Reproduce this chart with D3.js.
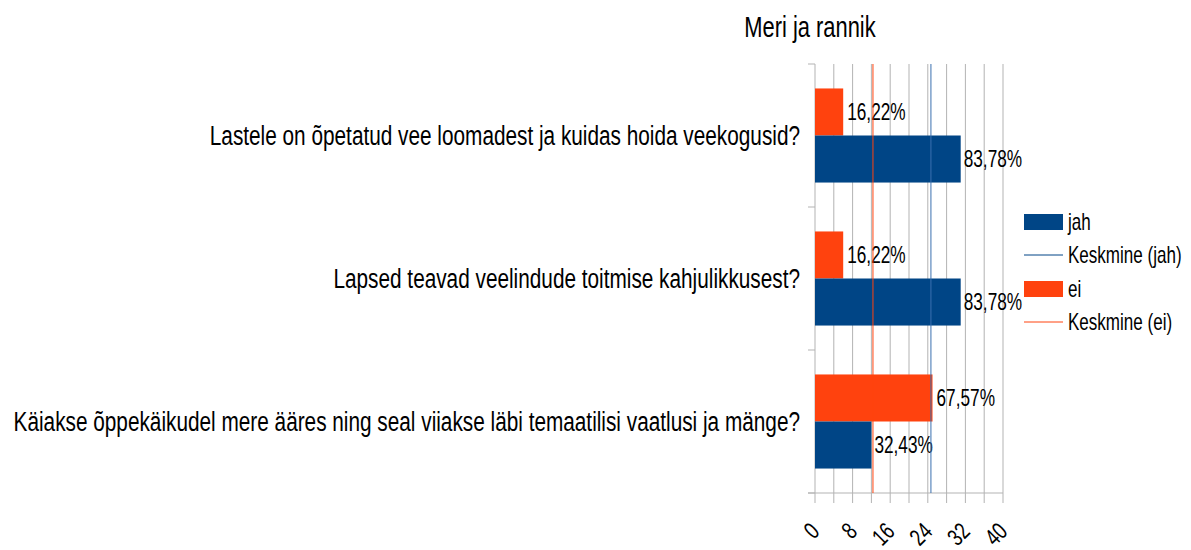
<!DOCTYPE html>
<html>
<head>
<meta charset="utf-8">
<script src="https://cdn.jsdelivr.net/npm/d3@7"></script>
<style>
  body { margin: 0; background: #fff; }
  text { font-family: 'Liberation Sans Narrow', 'Liberation Sans', sans-serif; fill: #000; }
</style>
</head>
<body>
<div id="chart"></div>
<script>
const title = 'Meri ja rannik'

const questions = [
  'Lastele on õpetatud vee loomadest ja kuidas hoida veekogusid?',
  'Lapsed teavad veelindude toitmise kahjulikkusest?',
  'Käiakse õppekäikudel mere ääres ning seal viiakse läbi temaatilisi vaatlusi ja mänge?'
]

// counts of answers (37 respondents)
const jahValues = [31, 31, 12]
const eiValues = [6, 6, 25]

const jahLabels = ['83,78%', '83,78%', '32,43%']
const eiLabels = ['16,22%', '16,22%', '67,57%']

const xTicks = [0, 8, 16, 24, 32, 40]

const legendItems = ['jah', 'Keskmine (jah)', 'ei', 'Keskmine (ei)']

const blue = '#004586'
const red = '#ff420e'

const width = 1191
const height = 550

// the original uses a narrow font, squeeze the regular one
const narrow = 0.77

const svg = d3
  .select('#chart')
  .append('svg')
  .attr('width', width)
  .attr('height', height)

const x = d3.scaleLinear().domain([0, 40]).range([815, 1003])

const y = d3
  .scaleBand()
  .domain(questions)
  .range([64, 493])

const ySub = d3
  .scaleBand()
  .domain(['ei', 'jah'])
  .range([0, y.bandwidth()])
  .paddingInner(0)
  .paddingOuter(0.52)

const rows = questions.map((q, i) => ({
  q: q,
  jah: jahValues[i],
  ei: eiValues[i],
  jahLabel: jahLabels[i],
  eiLabel: eiLabels[i]
}))

// grid lines (every 4), extending under axis as ticks
svg
  .append('g')
  .selectAll('line')
  .data(d3.range(0, 41, 4))
  .enter()
  .append('line')
  .attr('x1', d => x(d))
  .attr('x2', d => x(d))
  .attr('y1', 64)
  .attr('y2', 503)
  .attr('stroke', '#b3b3b3')
  .attr('stroke-width', 1)

// left axis ticks at category boundaries
const bounds = questions.map(q => y(q)).concat([y.range()[1]])
svg
  .append('g')
  .selectAll('line')
  .data(bounds)
  .enter()
  .append('line')
  .attr('x1', 808)
  .attr('x2', x(0))
  .attr('y1', d => d)
  .attr('y2', d => d)
  .attr('stroke', '#b3b3b3')

// bottom axis line
svg
  .append('line')
  .attr('x1', 808)
  .attr('x2', x(40))
  .attr('y1', 493)
  .attr('y2', 493)
  .attr('stroke', '#b3b3b3')

// bars
const groups = svg
  .append('g')
  .selectAll('g')
  .data(rows)
  .enter()
  .append('g')
  .attr('transform', d => `translate(0,${y(d.q)})`)

groups
  .append('rect')
  .attr('x', x(0))
  .attr('y', ySub('ei'))
  .attr('width', d => x(d.ei) - x(0))
  .attr('height', ySub.bandwidth())
  .attr('fill', red)

groups
  .append('rect')
  .attr('x', x(0))
  .attr('y', ySub('jah'))
  .attr('width', d => x(d.jah) - x(0))
  .attr('height', ySub.bandwidth())
  .attr('fill', blue)

groups
  .append('text')
  .text(d => d.eiLabel)
  .attr('dy', '0.35em')
  .attr('font-size', 23)
  .attr('transform', d => `translate(${x(d.ei) + 4},${ySub('ei') + ySub.bandwidth() / 2}) scale(0.75,1)`)

groups
  .append('text')
  .text(d => d.jahLabel)
  .attr('dy', '0.35em')
  .attr('font-size', 23)
  .attr('transform', d => `translate(${x(d.jah) + 3},${ySub('jah') + ySub.bandwidth() / 2}) scale(0.75,1)`)

// mean lines
const jahMean = d3.mean(jahValues)
const eiMean = d3.mean(eiValues)

svg
  .append('line')
  .attr('x1', x(eiMean))
  .attr('x2', x(eiMean))
  .attr('y1', 64)
  .attr('y2', 493)
  .attr('stroke', red)
  .attr('stroke-width', 1)

svg
  .append('line')
  .attr('x1', x(jahMean))
  .attr('x2', x(jahMean))
  .attr('y1', 64)
  .attr('y2', 493)
  .attr('stroke', '#3a6fb0')
  .attr('stroke-width', 1)

// category labels
svg
  .append('g')
  .selectAll('text')
  .data(questions)
  .enter()
  .append('text')
  .text(d => d)
  .attr('dy', '0.35em')
  .attr('text-anchor', 'end')
  .attr('font-size', 27)
  .attr('transform', d => `translate(800,${y(d) + y.bandwidth() / 2}) scale(${narrow},1)`)

// x tick labels, rotated
svg
  .append('g')
  .selectAll('text')
  .data(xTicks)
  .enter()
  .append('text')
  .text(d => d)
  .attr('text-anchor', 'end')
  .attr('dy', '0.35em')
  .attr('font-size', 24)
  .attr('transform', d => `translate(${x(d)},527) rotate(-45) scale(0.75,1)`)

// title
svg
  .append('text')
  .text(title)
  .attr('text-anchor', 'middle')
  .attr('font-size', 30)
  .attr('transform', 'translate(810,37) scale(0.73,1)')

// legend
const legendY = [222, 255, 289, 322]
const legend = svg.append('g')

legendItems.forEach((name, i) => {
  const g = legend.append('g').attr('transform', `translate(1024,${legendY[i]})`)
  if (i % 2 === 0) {
    g.append('rect')
      .attr('x', 0)
      .attr('y', -8)
      .attr('width', 39)
      .attr('height', 16)
      .attr('fill', i === 0 ? blue : red)
  } else {
    g.append('line')
      .attr('x1', 0)
      .attr('x2', 39)
      .attr('y1', 0)
      .attr('y2', 0)
      .attr('stroke', i === 1 ? blue : red)
  }
  g.append('text')
    .text(name)
    .attr('dy', '0.35em')
    .attr('font-size', 24)
    .attr('transform', 'translate(44,0) scale(0.71,1)')
})
</script>
</body>
</html>
